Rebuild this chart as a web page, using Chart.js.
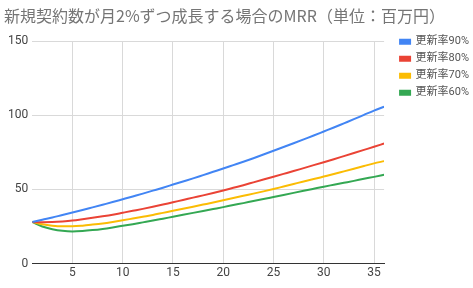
<!DOCTYPE html>
<html>
<head>
<meta charset="utf-8">
<script src="https://cdn.jsdelivr.net/npm/chart.js@4"></script>
<style>
  html, body { margin: 0; padding: 0; background: #fff; }
  #wrap { width: 473px; height: 288px; }
</style>
</head>
<body>
<div id="wrap"><canvas id="mrrChart"></canvas></div>
<script>
/* MRR 推移 (新規契約数 月2%成長) */

const months = [1,2,3,4,5,6,7,8,9,10,11,12,13,14,15,16,17,18,19,20,21,22,23,24,25,26,27,28,29,30,31,32,33,34,35,36];
const xTicks = [5, 10, 15, 20, 25, 30, 35];
const yTicks = [0, 50, 100, 150];
const seriesLabels = ['更新率90%', '更新率80%', '更新率70%', '更新率60%'];

const rate90 = [28.0,29.6,31.1,32.8,34.4,36.1,37.9,39.7,41.5,43.4,45.3,47.2,49.2,51.2,53.3,55.4,57.5,59.7,61.9,64.1,66.4,68.7,71.1,73.6,76.1,78.6,81.2,83.8,86.4,89.1,91.8,94.6,97.4,100.3,103.2,105.8];
const rate80 = [28.0,27.9,28.0,28.4,29.0,29.9,30.9,31.9,33.0,34.3,35.6,36.9,38.3,39.8,41.4,42.9,44.5,46.0,47.6,49.3,51.1,52.9,54.8,56.7,58.6,60.5,62.4,64.4,66.4,68.4,70.4,72.5,74.6,76.7,78.8,81.0];
const rate70 = [28.0,26.5,25.6,25.2,25.2,25.6,26.3,27.1,28.1,29.2,30.4,31.6,32.8,34.2,35.6,37.0,38.4,39.8,41.2,42.7,44.2,45.7,47.2,48.7,50.3,52.0,53.7,55.4,57.0,58.7,60.4,62.2,64.0,65.8,67.6,69.1];
const rate60 = [28.0,25.0,23.2,22.1,21.7,22.0,22.6,23.4,24.4,25.5,26.6,27.8,29.0,30.3,31.6,32.9,34.2,35.5,36.8,38.1,39.5,40.8,42.2,43.5,44.9,46.3,47.7,49.1,50.5,51.9,53.2,54.5,55.8,57.2,58.5,59.9];

const colors = ['#4285F4', '#EA4335', '#FBBC04', '#34A853'];
const allSeries = [rate90, rate80, rate70, rate60];

const font = "Roboto, 'Noto Sans CJK JP', sans-serif";

const datasets = allSeries.map((vals, i) => ({
    label: seriesLabels[i],
    data: months.map((m, j) => ({ x: m, y: vals[j] })),
    borderColor: colors[i],
    backgroundColor: colors[i],
    borderWidth: 2,
    pointRadius: 0,
    cubicInterpolationMode: 'monotone',
    fill: false
}));

// 凡例をグラフ上端に揃えて少し右へ
const legendShift = {
    id: 'legendShift',
    afterLayout: (chart) => {
        chart.legend.top -= 11;
        chart.legend.left += 10;
    }
};

const config = {
    type: 'line',
    data: { datasets },
    options: {
        responsive: true,
        maintainAspectRatio: false,
        animation: false,
        layout: { padding: { left: 4, right: 4, top: 4, bottom: 6 } },
        scales: {
            x: {
                type: 'linear',
                min: months[0],
                max: months[months.length - 1],
                afterBuildTicks: (scale) => {
                    scale.ticks = xTicks.map(v => ({ value: v }));
                },
                grid: { color: '#d9d9d9', drawTicks: false },
                border: { color: '#333333', width: 1 },
                ticks: { color: '#444', font: { family: font, size: 12 }, padding: 2, maxRotation: 0 }
            },
            y: {
                min: yTicks[0],
                max: yTicks[yTicks.length - 1],
                afterBuildTicks: (scale) => {
                    scale.ticks = yTicks.map(v => ({ value: v }));
                },
                grid: { color: '#d9d9d9', drawTicks: false },
                border: { display: false },
                ticks: { color: '#444', font: { family: font, size: 12 }, padding: 4 }
            }
        },
        plugins: {
            title: {
                display: true,
                text: '新規契約数が月2%ずつ成長する場合のMRR（単位：百万円）',
                align: 'start',
                color: '#757575',
                font: { family: "'Noto Sans CJK JP', sans-serif", size: 16, weight: 'normal' },
                padding: { top: 2, bottom: 16 }
            },
            legend: {
                position: 'right',
                align: 'start',
                fullSize: false,
                labels: {
                    boxWidth: 10,
                    boxHeight: 4,
                    color: '#555',
                    font: { family: font, size: 11 },
                    padding: 6
                }
            },
            tooltip: { enabled: false }
        }
    },
    plugins: [legendShift]
};

new Chart(document.getElementById('mrrChart').getContext('2d'), config);
</script>
</body>
</html>
